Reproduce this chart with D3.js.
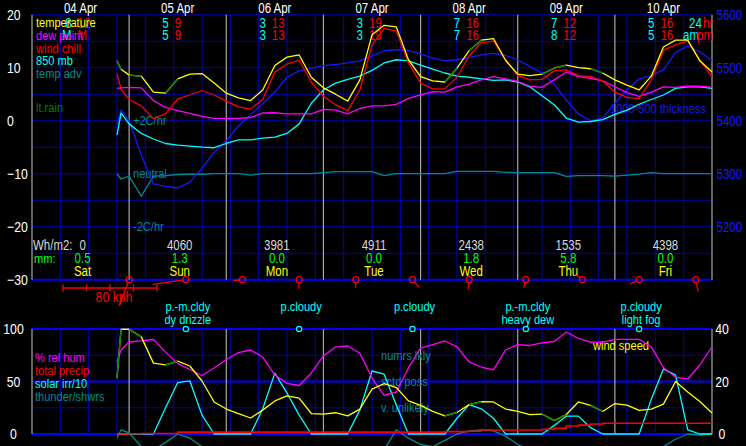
<!DOCTYPE html>
<html><head><meta charset="utf-8">
<script src="https://cdn.jsdelivr.net/npm/d3@7"></script>
<style>
html,body{margin:0;padding:0;background:#000;overflow:hidden;}
svg{display:block;}
text{font-family:"Liberation Sans",Arial,sans-serif;font-size:13px;}
</style></head><body>
<svg id="c" width="746" height="446"></svg>
<script>
// ---------- data ----------
const hours = [21,22,24,27,30,33,36,39,42,45,48,51,54,57,60,63,66,69,72,75,78,81,84,87,90,93,96,99,102,105,108,111,114,117,120,123,126,129,132,135,138,141,144,147,150,153,156,159,162,165,168];
const temperature = [11.3,9.7,8.6,8.4,5.4,5.2,7.9,8.8,8.9,7.1,5.2,4.3,3.8,5.8,10.4,12.0,12.4,8.2,6.2,5.0,3.7,7.7,16.2,18.0,17.7,11.5,8.3,7.5,7.3,9.9,13.2,15.2,15.5,11.4,8.8,8.5,8.8,9.9,10.5,10.0,9.8,9.0,7.7,6.7,5.8,8.4,13.9,15.2,15.2,11.3,9.2];
const dewPoint = [6.1,6.2,6.3,6.2,3.8,2.5,1.9,1.4,0.8,0.45,0.45,0.45,0.6,1.45,1.5,1.3,1.3,1.3,2.15,2.0,1.3,2.3,2.8,2.8,3.1,4.2,4.85,5.5,5.4,6.4,6.9,7.7,8.3,7.9,7.4,6.5,6.3,7.7,9.2,8.3,8.0,7.5,6.4,5.3,4.6,5.4,6.4,6.3,6.5,6.5,6.3];
const windChill = [8.9,5.9,4.0,2.8,0.4,1.3,4.1,4.85,5.7,4.85,3.7,2.6,2.2,4.0,9.2,10.7,11.4,7.3,4.6,3.0,1.9,5.8,14.3,17.4,16.9,10.9,7.1,6.0,6.0,8.2,12.2,14.75,15.0,11.45,8.5,7.7,7.8,9.4,9.6,8.5,8.3,7.5,5.4,4.4,4.15,7.7,13.3,14.3,15.0,11.45,8.25];
const temp850 = [-2.7,1.45,-0.6,-2.4,-3.45,-4.3,-4.6,-4.8,-5.0,-5.1,-4.3,-3.6,-3.6,-3.3,-3.1,-2.4,-0.6,3.3,5.8,7.1,7.8,8.4,9.5,10.9,11.5,11.3,10.5,9.75,9.0,8.4,8.2,7.9,7.6,7.7,7.3,6.4,4.7,3.0,0.5,-0.25,-0.15,0.2,1.2,2.0,3.1,4.0,4.85,6.1,6.4,6.4,6.1];
const thickness = [5392,5420,5400,5335,5281,5276,5273,5284,5310,5340,5362,5390,5411,5432,5454,5482,5494,5499,5504,5506,5509,5513,5522,5532,5534,5532,5526,5518,5513,5515,5519,5524,5527,5523,5515,5502,5490,5469,5439,5413,5400,5405,5433,5458,5479,5485,5496,5529,5541,5530,5513];
const tempAdv = [0,-0.2,-0.09,-0.85,-0.09,-0.07,-0.03,-0.02,-0.02,0,0,0,-0.05,0,0,0,0,0,0.04,0.08,0.08,0.08,0.08,-0.07,0,0,0,0,0,0.09,0.09,0.09,0.09,0.05,0.04,0.04,0.04,0.04,-0.1,-0.07,-0.07,-0.07,-0.09,-0.05,-0.02,0.04,0,0,0,0,0];
const relHum = [69,80,87.6,88.6,90,78,67,61.4,55.7,62.9,71,77.6,80,73.3,56.2,48.3,46.2,58.1,74.3,82.9,83.8,76.9,53.3,36.7,40,62.9,81.9,85.2,88.6,82.9,68.6,63.8,61,80,85.2,84.3,86.7,88.1,97.1,91,87.6,87.3,90.2,90.2,90.2,82.9,63.3,54,52.4,65.7,83.1];
const totalPrecip = [0,0,0.3,0.5,0.5,0.5,1.8,1.8,1.8,1.8,1.8,1.8,1.8,1.8,1.8,1.8,1.8,1.8,1.8,1.8,1.8,1.8,1.8,1.8,1.8,1.8,1.8,1.8,2.3,2.3,2.6,3.8,3.8,3.8,3.8,3.8,4.5,5.4,7.6,8.5,9.5,10.2,10.2,10.2,10.2,10.2,10.2,10.2,10.2,10.2,10.2];
const solarIrr = [0,0,0,0,0,25,49,50.5,18,0,0,0,0,24,58,39,18,0,0,0,0,23,60,57,27.6,0,0,0,0,15,28,24,15,0,0,0,0,8,17,17,6,0,0,0,0,33,62,56,4,0,0];
const thunder = [-4,4,1,-12,-15,-8,0,-4,-12,-20,-20,-20,-20,-20,-20,-20,-20,-20,-20,-20,-20,-20,-20,-15,4,-4,-10,-12,-6,0,3,4,3,-2,-10,-15,-12,-15,-20,-20,-20,-20,-20,-20,-20,-20,-12,-5,0,-1,0];
const windSpeed = [21.3,39.9,39.9,37,27,26.3,27.8,25.9,20.2,12.2,9.5,7.8,6.1,9.1,12.6,14.5,13.7,7.8,7.6,8.1,6.9,9.5,17.1,19.2,17.7,12.6,10.9,8.6,6.9,8.2,11.2,12.3,12.2,9.5,8.6,7.4,7.6,5.1,7.4,12.2,10.9,8.6,11.6,11.0,9.0,9.5,11.4,20,16,12.4,8.0];
const rainStartHours = [21,24,33,102,108,126,129,138];

const dates = ["04 Apr","05 Apr","06 Apr","07 Apr","08 Apr","09 Apr","10 Apr"];
const dayNames = ["Sat","Sun","Mon","Tue","Wed","Thu","Fri"];
const min24 = ["8","5","3","3","7","7","5"];
const max24 = ["12","9","13","19","16","12","16"];
const minAm = ["M","5","3","3","7","8","5"];
const maxPm = ["M","9","13","19","16","12","16"];
const solarDaily = ["0","4060","3981","4911","2438","1535","4398"];
const precipDaily = ["0.5","1.3","0.0","0.0","1.8","5.8","0.0"];

const windHours = [24,38,52,66,80,94,108,122,136,150,164];
const windDirDeg = [201,262,264,183,182,139,184,194,306,245,169];
const windKph = [23.7,28.3,7.7,7.7,6.8,9.0,8.5,7.0,7.3,8.8,10.4];

const skyHours = [38,66,94,122,150];
const skyLine1 = ["p.-m.cldy","p.cloudy","p.cloudy","p.-m.cldy","p.cloudy"];
const skyLine2 = ["dy drizzle","","","heavy dew","light fog"];

const tempTicks = [20,10,0,-10,-20,-30];
const thickTicks = [5600,5500,5400,5300,5200];
const pctTicks = [100,50,0];
const windTicks = [40,20,0];
const kphScaleTicks = [0,20,40,60,80];

// ---------- scales ----------
const NARROW = 0.82;
const svg = d3.select("#c");
svg.append("rect").attr("width",746).attr("height",446).attr("fill","#000");
const x = d3.scaleLinear().domain([0,168]).range([32,712]);
const yT = d3.scaleLinear().domain([-30,20]).range([279.7,14.7]);
const yTh = d3.scaleLinear().domain([5100,5600]).range([279.7,14.7]);
const yB = d3.scaleLinear().domain([0,100]).range([434,329]);
const yW = d3.scaleLinear().domain([0,40]).range([434,329]);
const wLen = d3.scaleLinear().domain([0,80]).range([0,94]);

const GRID = "#0000b0", BRIGHT = "#0000ff", GRAY = "#a8a8a8";
const YEL="#ffff00", MAG="#ff00ff", RED="#ff0000", CYA="#00ffff", TEAL="#008c8c", GRN="#008000", LGRN="#00ff00", BLU="#1818ff";

// ---------- grids ----------
function grid(yScale, hTicks, top, bottom, brightSet) {
  const g = svg.append("g");
  g.selectAll("line.h").data(hTicks).join("line")
    .attr("x1",32).attr("x2",712).attr("y1",d=>yScale(d)).attr("y2",d=>yScale(d))
    .attr("stroke",d=>brightSet.includes(d)?BRIGHT:GRID)
    .attr("stroke-width",d=>brightSet.includes(d)?2:1.1);
  g.selectAll("line.v").data(d3.range(1,24).map(k=>k*7)).join("line")
    .attr("x1",d=>x(d)).attr("x2",d=>x(d)).attr("y1",top).attr("y2",bottom)
    .attr("stroke",GRID).attr("stroke-width",1.1);
  g.selectAll("line.d").data(d3.range(0,8).map(k=>k*24)).join("line")
    .attr("x1",d=>x(d)).attr("x2",d=>x(d)).attr("y1",top).attr("y2",bottom)
    .attr("stroke",GRAY).attr("stroke-width",1.2);
}
grid(yT, d3.range(-30,21,5), yT(20), yT(-30), [-30]);
grid(yB, [0,25,50,75,100], yB(100), yB(0), [0,50,100]);

// ---------- axes ----------
function axisText(g, color, size, anchor, xPos) {
  g.select(".domain").remove();
  g.selectAll("text").attr("fill",color).style("font-size",size+"px")
    .attr("text-anchor",anchor).attr("x",xPos/NARROW).attr("transform",`scale(${NARROW},1)`);
}
const fmt = d3.format("d");
svg.append("g").call(d3.axisRight(yT).tickValues(tempTicks).tickFormat(fmt).tickSize(0)).call(g=>axisText(g,"#fff",15,"start",7));
svg.append("g").attr("transform","translate(712,0)").call(d3.axisRight(yTh).tickValues(thickTicks).tickFormat(fmt).tickSize(0)).call(g=>axisText(g,BLU,14,"start",4.5));
svg.append("g").call(d3.axisRight(yB).tickValues(pctTicks).tickFormat(fmt).tickSize(0)).call(g=>axisText(g,"#fff",15,"middle",13.5));
svg.append("g").attr("transform","translate(712,0)").call(d3.axisRight(yW).tickValues(windTicks).tickFormat(fmt).tickSize(0)).call(g=>axisText(g,"#fff",15,"middle",10));

// ---------- texts ----------
function txt(t, xx, yy, color, anchor, size) {
  return svg.append("text").attr("transform",`translate(${xx},${yy}) scale(${NARROW},1)`)
    .attr("fill",color).attr("text-anchor",anchor||"start").style("font-size",(size||13.5)+"px").text(t);
}
const dayC = i => x(i*24+12);
dates.forEach((d,i)=>txt(d, dayC(i), 12.5, "#fff", "middle", 14));
dates.forEach((d,i)=>{
  txt(min24[i], dayC(i)-9, 28, CYA, "end", 14);
  txt(max24[i], dayC(i)-3, 28, RED, "start", 14);
  txt(minAm[i], dayC(i)-9, 39.5, CYA, "end", 14);
  txt(maxPm[i], dayC(i)-3, 39.5, RED, "start", 14);
});
[["temperature",YEL,27],["dew point",MAG,39.5],["wind chill",RED,52.5],["850 mb",CYA,65],["temp adv",TEAL,78],["lt.rain",GRN,112]]
  .forEach(([t,c,yy])=>txt(t,36,yy,c));
txt("24",689,28,CYA,"start",14); txt("hr",703,28,RED,"start",14);
txt("am",683,39.5,CYA,"start",14); txt("pm",697,39.5,RED,"start",14);
txt("+2C/hr",133,yT(-10+5*2)+4.5,TEAL);
txt("neutral",133,yT(-10)+4.5,TEAL);
txt("-2C/hr",133,yT(-10-5*2)+4.5,TEAL);
txt("1000-500 thickness",610,113,BLU);
txt("Wh/m2:",33,250,"#d8d8d8","start",14);
txt("mm:",34,263,LGRN);
dates.forEach((d,i)=>{
  txt(solarDaily[i], dayC(i)+2, 250, "#d8d8d8", "middle", 14);
  txt(precipDaily[i], dayC(i)+2, 263, LGRN, "middle", 14);
  txt(dayNames[i], dayC(i)+2, 275.5, YEL, "middle", 14);
});
[["% rel hum",MAG,362],["total precip",RED,375],["solar irr/10",CYA,388],["thunder/shwrs",TEAL,401]]
  .forEach(([t,c,yy])=>txt(t,35,yy,c));
[["numrs lkly",75],["sctd poss",50],["v. unlikely",25]].forEach(([t,v])=>txt(t,381,yB(v)+4.5,TEAL));
txt("wind speed",593,350,YEL);

// sky conditions
skyHours.forEach((h,i)=>{
  txt(skyLine1[i], x(h)+2, 310.5, CYA, "middle");
  if (skyLine2[i]) txt(skyLine2[i], x(h)+2, 324, CYA, "middle");
});

// ---------- lines ----------
function drawLine(vals, yScale, color, curve, w) {
  const ln = d3.line().x((d,i)=>x(hours[i])).y(d=>yScale(d)).curve(curve||d3.curveLinear);
  svg.append("path").attr("d",ln(vals)).attr("fill","none").attr("stroke",color)
    .attr("stroke-width",w||1.3).attr("stroke-linejoin","round");
}
function rainOverlay(vals, yScale) {
  rainStartHours.forEach(h=>{
    const i = hours.indexOf(h);
    if (i<0 || i>=hours.length-1) return;
    svg.append("line").attr("x1",x(hours[i])).attr("y1",yScale(vals[i]))
      .attr("x2",x(hours[i+1])).attr("y2",yScale(vals[i+1]))
      .attr("stroke",GRN).attr("stroke-width",1.4);
  });
}
const advY = v => yT(-10 + 5*v);
drawLine(tempAdv, d=>advY(d), TEAL);
drawLine(thickness, yTh, BLU);
drawLine(temp850, yT, CYA);
drawLine(dewPoint, yT, MAG);
drawLine(windChill, yT, RED);
drawLine(temperature, yT, YEL);
rainOverlay(temperature, yT);

drawLine(thunder, yB, TEAL);
drawLine(solarIrr, yB, CYA);
drawLine(totalPrecip, yB, RED, d3.curveStepAfter, 1.6);
drawLine(relHum, yB, MAG);
drawLine(windSpeed, yW, YEL);
rainOverlay(windSpeed, yW);

// sky markers
svg.selectAll("circle.sky").data(skyHours).join("circle")
  .attr("cx",d=>x(d)).attr("cy",yB(100)).attr("r",2.6)
  .attr("fill","#000").attr("stroke",CYA).attr("stroke-width",1.2);

// ---------- wind barbs ----------
const by = yT(-30);
windHours.forEach((h,i)=>{
  const a = windDirDeg[i]*Math.PI/180, L = wLen(windKph[i]);
  const cx = x(h);
  svg.append("line").attr("x1",cx+3*Math.sin(a)).attr("y1",by-3*Math.cos(a))
    .attr("x2",cx+L*Math.sin(a)).attr("y2",by-L*Math.cos(a))
    .attr("stroke",RED).attr("stroke-width",1.3);
  svg.append("circle").attr("cx",cx).attr("cy",by).attr("r",3)
    .attr("fill","none").attr("stroke",RED).attr("stroke-width",1.2);
});
// speed scale
const sx0 = 63, sy = 288;
svg.append("line").attr("x1",sx0+wLen(0)).attr("x2",sx0+wLen(80)).attr("y1",sy).attr("y2",sy)
  .attr("stroke",RED).attr("stroke-width",1.3);
svg.selectAll("line.kt").data(kphScaleTicks).join("line")
  .attr("x1",d=>sx0+wLen(d)).attr("x2",d=>sx0+wLen(d)).attr("y1",sy-3.5).attr("y2",sy+3.5)
  .attr("stroke",RED).attr("stroke-width",1.3);
txt("80 kph", 114, 302, RED, "middle", 15);
</script>
</body></html>
